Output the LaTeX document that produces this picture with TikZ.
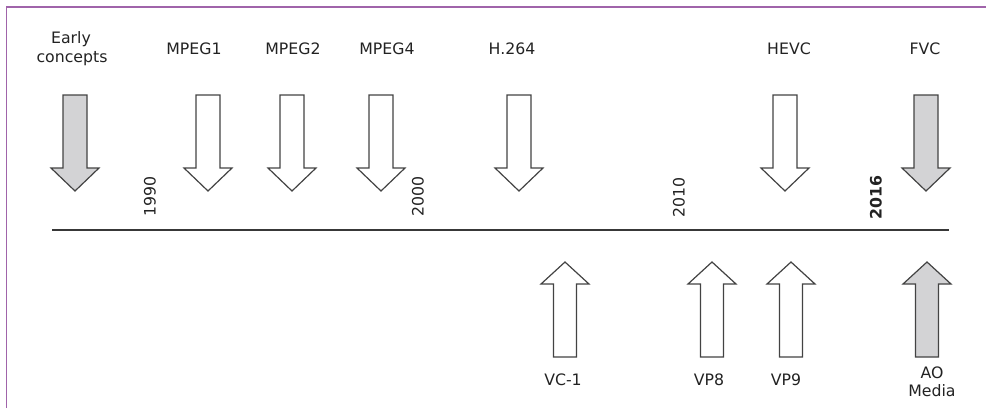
\documentclass[tikz,border=0pt]{standalone}
\usepackage{fontspec}
\setmainfont{DejaVu Sans}
\definecolor{framec}{RGB}{160,100,170}
\definecolor{grayfill}{RGB}{211,211,213}
\definecolor{ink}{RGB}{34,34,34}
\newcommand\ArrDown[3]{%
  \draw[arrline,fill=#3] (#1-12,#2) -- (#1+12,#2) -- (#1+12,168) -- (#1+24,168) -- (#1,191) -- (#1-24,168) -- (#1-12,168) -- cycle;}
\newcommand\ArrUp[2]{%
  \draw[arrline,fill=#2] (#1,262) -- (#1+24,284) -- (#1+11.5,284) -- (#1+11.5,357) -- (#1-11.5,357) -- (#1-11.5,284) -- (#1-24,284) -- cycle;}
\begin{document}
\begin{tikzpicture}[x=0.75pt,y=-0.75pt,
  arrline/.style={draw=ink!85,line width=0.9pt,line join=miter},
  lbl/.style={text=ink,font=\fontsize{11.8}{14}\selectfont,inner sep=0pt,anchor=base},
  year/.style={text=ink,font=\fontsize{11.8}{14}\selectfont,inner sep=0pt,rotate=90,anchor=west}]
\useasboundingbox (0,0) rectangle (986,408);
% frame
\draw[framec,line width=1.1pt] (6.5,408) -- (6.5,7) -- (986,7);
% timeline
\coordinate (tl0) at (52,230);
\coordinate (tl1) at (949,230);
\draw[ink!90,line width=0.9pt] (tl0) -- (tl1);
% down arrows
\ArrDown{75}{95}{grayfill}
\ArrDown{208}{95}{white}
\ArrDown{292}{95}{white}
\ArrDown{381}{95}{white}
\ArrDown{519}{95}{white}
\ArrDown{785}{95}{white}
\ArrDown{926}{95}{grayfill}
% up arrows
\ArrUp{565}{white}
\ArrUp{712}{white}
\ArrUp{791}{white}
\ArrUp{927}{grayfill}
% top labels
\node[lbl] (early1) at (71,43) {Early};
\node[lbl] (early2) at (72,62) {concepts};
\node[lbl] (mpeg1) at (194,54) {MPEG1};
\node[lbl] (mpeg2) at (293,54) {MPEG2};
\node[lbl] (mpeg4) at (387,54) {MPEG4};
\node[lbl] (h264) at (512,54) {H.264};
\node[lbl] (hevc) at (789,54) {HEVC};
\node[lbl] (fvc) at (925,54) {FVC};
% bottom labels
\node[lbl] (vc1) at (563,385) {VC-1};
\node[lbl] (vp8) at (709,385) {VP8};
\node[lbl] (vp9) at (786,385) {VP9};
\node[lbl] (ao1) at (932,378) {AO};
\node[lbl] (ao2) at (932,396) {Media};
% years
\node[year] (y1990) at (150,217) {1990};
\node[year] (y2000) at (418,217) {2000};
\node[year] (y2010) at (679,218) {2010};
\node[year,font=\fontsize{11.8}{14}\selectfont\bfseries] (y2016) at (876,220) {2016};
\end{tikzpicture}
\end{document}
